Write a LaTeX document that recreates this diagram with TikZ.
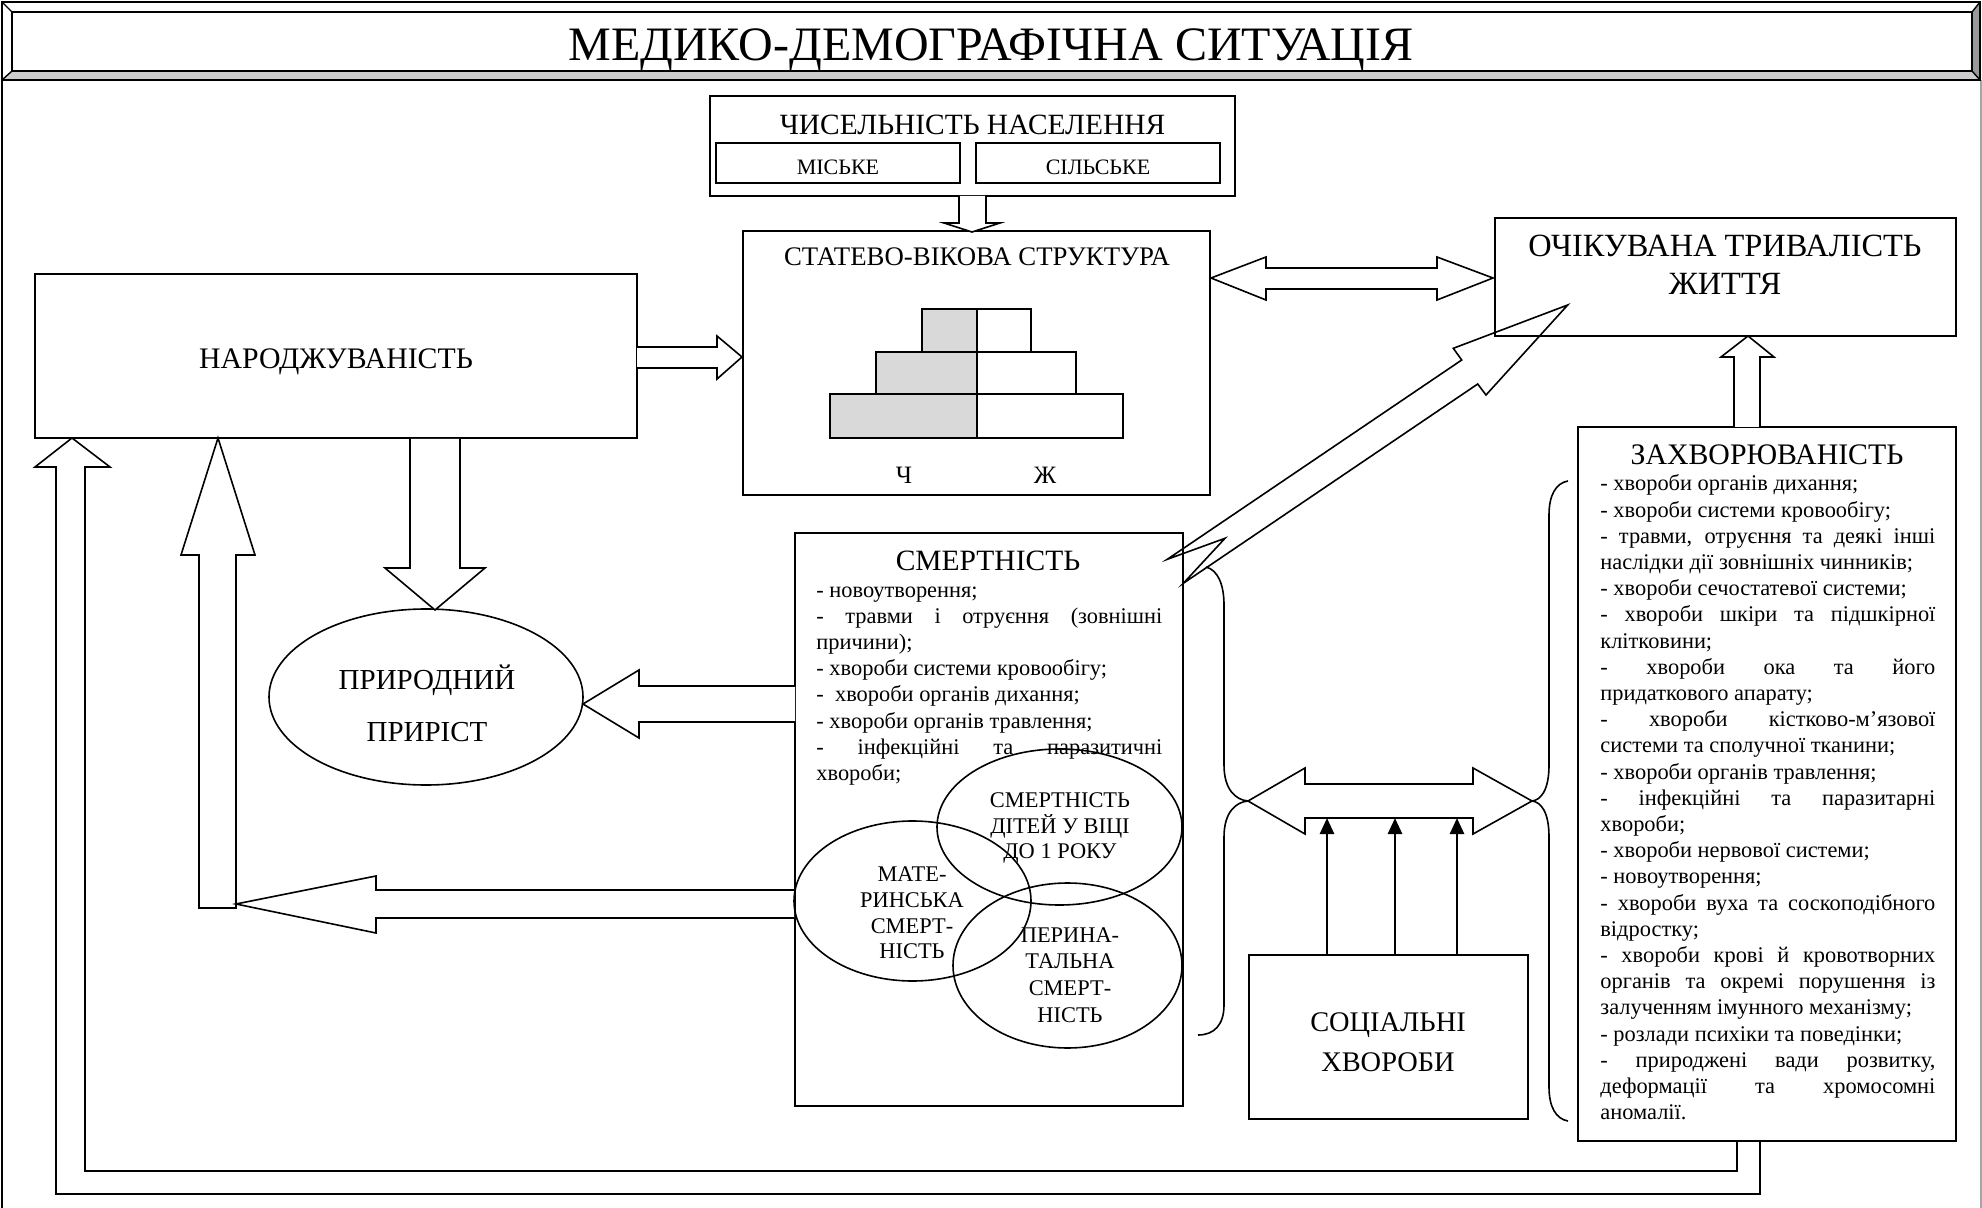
\documentclass[tikz,border=0pt]{standalone}
\usepackage{fontspec}
\setmainfont{Liberation Serif}
\usetikzlibrary{shapes.geometric,arrows.meta}
\newcommand\jl[1]{\makebox[\linewidth][s]{#1}}
\newcommand\pl[1]{\mbox{#1}}
\tikzset{
  box/.style={draw, line width=0.9pt, fill=white, inner sep=0pt},
  lbl/.style={inner sep=0pt, align=center},
  blk/.style={draw, line width=0.8pt, fill=white, line join=miter},
  ell/.style={draw, ellipse, line width=0.8pt, inner sep=0pt},
  brace/.style={draw, line width=0.8pt},
  small/.style={line width=1.3pt, -{Triangle[length=8pt,width=7pt]}},
  fs/.style 2 args={font=\fontsize{#1}{#2}\selectfont},
}
\begin{document}
\begin{tikzpicture}[x=0.5pt,y=-0.5pt]
\useasboundingbox (0,0) rectangle (1982,1208);
% page frame
\draw[line width=0.6pt] (2,80) -- (2,1208);
\draw[line width=0.6pt, black!35] (1981,80) -- (1981,1208);
% title frame
\fill[white] (2,2) -- (1980,2) -- (1972,12) -- (12,12) -- cycle;
\fill[black!20] (2,80) -- (12,71) -- (1972,71) -- (1980,80) -- cycle;
\fill[black!40] (1980,2) -- (1980,80) -- (1972,71) -- (1972,12) -- cycle;
\draw[line width=0.9pt] (2,2) rectangle (1980,80);
\draw[line width=0.9pt] (12,12) rectangle (1972,71);
\draw[line width=0.7pt] (2,2) -- (12,12) (1980,2) -- (1972,12) (2,80) -- (12,71) (1980,80) -- (1972,71);
\node[lbl, fs={24}{28}] (title) at (991,50) {МЕДИКО-ДЕМОГРАФІЧНА СИТУАЦІЯ};

% boxes
\node[box, minimum width=262.5pt, minimum height=50pt] (chis) at (972.5,146) {};
\node[lbl, fs={14.7}{17}] (chist) at (972.5,125) {ЧИСЕЛЬНІСТЬ НАСЕЛЕННЯ};
\node[box, minimum width=122pt, minimum height=20pt] (misk) at (838,163) {};
\node[box, minimum width=122pt, minimum height=20pt] (silsk) at (1098,163) {};
\node[lbl, fs={11}{13}] (miskt) at (838,167) {МІСЬКЕ};
\node[lbl, fs={11}{13}] (silskt) at (1098,167) {СІЛЬСЬКЕ};

\node[box, minimum width=233.5pt, minimum height=132pt] (stat) at (976.5,363) {};
\node[lbl, fs={13.4}{16}] (statt) at (977,257) {СТАТЕВО-ВІКОВА СТРУКТУРА};
\draw[line width=0.9pt, fill=black!15] (922,309) rectangle (977,352);
\draw[line width=0.9pt, fill=white] (977,309) rectangle (1031,352);
\draw[line width=0.9pt, fill=black!15] (876,352) rectangle (977,394);
\draw[line width=0.9pt, fill=white] (977,352) rectangle (1076,394);
\draw[line width=0.9pt, fill=black!15] (830,394) rectangle (977,438);
\draw[line width=0.9pt, fill=white] (977,394) rectangle (1123,438);
\node[lbl, fs={12.5}{15}] (ch) at (904,475) {Ч};
\node[lbl, fs={12.5}{15}] (zh) at (1045,475) {Ж};

\node[box, minimum width=301pt, minimum height=82pt] (nar) at (336,356) {};
\node[lbl, fs={14.9}{17}] (nart) at (336,362) {НАРОДЖУВАНІСТЬ};
\node[box, minimum width=230.5pt, minimum height=59pt] (och) at (1725.5,277) {};
\node[lbl, fs={16.2}{19}] (ocht) at (1725,265) {ОЧІКУВАНА ТРИВАЛІСТЬ\\ЖИТТЯ};

\node[box, minimum width=194pt, minimum height=286.5pt] (smert) at (989,819.5) {};
\node[lbl, fs={14.75}{17}] (smertt) at (988,561) {СМЕРТНІСТЬ};
\node[anchor=base west, inner sep=0pt, fs={11.2}{13.1}] (smertl) at (816,597) {\parbox[t]{173pt}{%
\pl{- новоутворення;}\\
\jl{- травми і отруєння (зовнішні}\\
\pl{причини);}\\
\pl{- хвороби системи кровообігу;}\\
\pl{-\ \ хвороби органів дихання;}\\
\pl{- хвороби органів травлення;}\\
\jl{- інфекційні та паразитичні}\\
\pl{хвороби;}}};

\node[box, minimum width=189pt, minimum height=357pt] (zakh) at (1767,784) {};
\node[lbl, fs={14.9}{17}] (zakht) at (1767,455) {ЗАХВОРЮВАНІСТЬ};
\node[anchor=base west, inner sep=0pt, fs={11.2}{13.1}] (zakhl) at (1600,491) {\parbox[t]{167.5pt}{%
\pl{- хвороби органів дихання;}\\
\pl{- хвороби системи кровообігу;}\\
\jl{- травми, отруєння та деякі інші}\\
\pl{наслідки дії зовнішніх чинників;}\\
\pl{- хвороби сечостатевої системи;}\\
\jl{- хвороби шкіри та підшкірної}\\
\pl{клітковини;}\\
\jl{- хвороби ока та його}\\
\pl{придаткового апарату;}\\
\jl{- хвороби кістково-м’язової}\\
\pl{системи та сполучної тканини;}\\
\pl{- хвороби органів травлення;}\\
\jl{- інфекційні та паразитарні}\\
\pl{хвороби;}\\
\pl{- хвороби нервової системи;}\\
\pl{- новоутворення;}\\
\jl{- хвороби вуха та соскоподібного}\\
\pl{відростку;}\\
\jl{- хвороби крові й кровотворних}\\
\jl{органів та окремі порушення із}\\
\pl{залученням імунного механізму;}\\
\pl{- розлади психіки та поведінки;}\\
\jl{- природжені вади розвитку,}\\
\jl{деформації та хромосомні}\\
\pl{аномалії.}}};

\node[box, minimum width=139.5pt, minimum height=82pt] (soc) at (1388.5,1037) {};
\node[lbl, fs={14.2}{20}] (soct) at (1388,1042) {СОЦІАЛЬНІ\\ХВОРОБИ};

\node[ell, minimum width=157pt, minimum height=88pt] (pryr) at (426,697) {};
\node[lbl, fs={14.5}{17}] (pryr1) at (427,680) {ПРИРОДНИЙ};
\node[lbl, fs={14.5}{17}] (pryr2) at (427,732) {ПРИРІСТ};

% block arrows
\draw[blk] (959,196) -- (959,223) -- (944,223) -- (972,232) -- (1000,223) -- (986,223) -- (986,196);
\draw[blk] (637,347) -- (717,347) -- (717,336) -- (742,357) -- (717,379) -- (717,368) -- (637,368);
\draw[blk] (410,439) -- (410,568) -- (385,568) -- (435,610) -- (485,568) -- (460,568) -- (460,439);
\draw[blk] (1211,278) -- (1266,257) -- (1266,268) -- (1437,268) -- (1437,257) -- (1493,278) -- (1437,300) -- (1437,289) -- (1266,289) -- (1266,300) -- cycle;
\draw[blk] (1734,427) -- (1734,357) -- (1721,357) -- (1748,336) -- (1774,357) -- (1760,357) -- (1760,427);
\draw[blk, fill=none] (1567.7,305) -- (1486,395) -- (1477.7,384) -- (1183.3,583.3) -- (1225,538.3) -- (1167.3,559.3) -- (1461.7,360) -- (1453.3,348.3) -- cycle;
\draw[blk] (795,686) -- (639,686) -- (639,670) -- (583,704) -- (639,738) -- (639,722) -- (795,722);
\draw[blk] (199,908) -- (199,555) -- (181,555) -- (218,438) -- (255,555) -- (236,555) -- (236,908) -- cycle;
\draw[blk] (794,890) -- (376,890) -- (376,876) -- (236,904) -- (376,933) -- (376,918) -- (794,918);
\draw[blk, fill=none] (1737,1141) -- (1737,1171) -- (85,1171) -- (85,467) -- (110,467) -- (72,438) -- (35,467) -- (56,467) -- (56,1194) -- (1760,1194) -- (1760,1141);

% braces
\draw[brace] (1206,567) .. controls (1218,570) and (1224,585) .. (1224,605) -- (1224,765) .. controls (1224,790) and (1236,800) .. (1248,801) .. controls (1236,802) and (1224,812) .. (1224,837) -- (1224,1005) .. controls (1224,1025) and (1214,1035) .. (1198,1035);
\draw[brace] (1568,481) .. controls (1556,483) and (1549,495) .. (1549,515) -- (1549,765) .. controls (1549,790) and (1541,800) .. (1532,801) .. controls (1541,802) and (1549,812) .. (1549,837) -- (1549,1087) .. controls (1549,1107) and (1556,1119) .. (1568,1121);
\draw[blk] (1248,801) -- (1305,768) -- (1305,784) -- (1473,784) -- (1473,768) -- (1532,801) -- (1473,834) -- (1473,818) -- (1305,818) -- (1305,834) -- cycle;
\coordinate (s1) at (1327,818);
\coordinate (s2) at (1395,818);
\coordinate (s3) at (1457,818);
\draw[small] (soc.north -| s1) -- (s1);
\draw[small] (soc.north -| s2) -- (s2);
\draw[small] (soc.north -| s3) -- (s3);

% venn
\node[ell, minimum width=122.5pt, minimum height=78pt] (dity) at (1059.5,827) {};
\node[ell, minimum width=118.5pt, minimum height=80pt] (mat) at (912.5,901) {};
\node[ell, minimum width=114.5pt, minimum height=82.5pt] (per) at (1067.5,965.5) {};
\node[lbl, fs={11.2}{12.8}] (dityt) at (1060,828) {СМЕРТНІСТЬ\\ДІТЕЙ У ВІЦІ\\ДО 1 РОКУ};
\node[lbl, fs={11.2}{12.9}] (matt) at (912,913) {МАТЕ-\\РИНСЬКА\\СМЕРТ-\\НІСТЬ};
\node[lbl, fs={11.2}{13.3}] (pert) at (1070,975) {ПЕРИНА-\\ТАЛЬНА\\СМЕРТ-\\НІСТЬ};
\end{tikzpicture}
\end{document}
